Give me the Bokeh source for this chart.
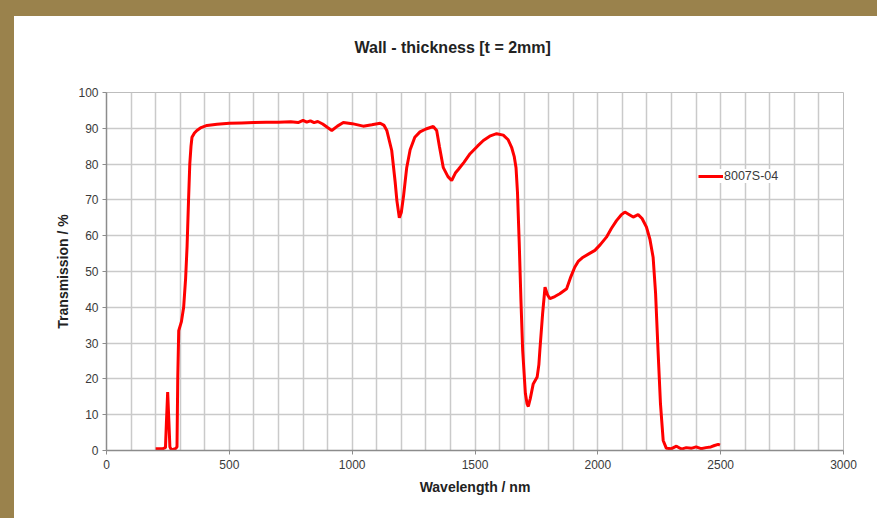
from bokeh.plotting import figure
from bokeh.layouts import column, row
from bokeh.models import Range1d, SingleIntervalTicker, Legend, LegendItem, Spacer
from bokeh.embed import file_html
from bokeh.resources import INLINE

title_text = "Wall - thickness [t = 2mm]"
x_label = "Wavelength / nm"
y_label = "Transmission / %"
series_name = "8007S-04"

wavelength = [200, 215, 230, 240, 244, 249, 254, 258, 263, 270, 280, 287, 290, 294, 305, 314, 322, 328,
              334, 339, 344, 348, 358, 368, 385, 409, 450, 500, 550, 600, 650, 700, 750, 780, 800, 815,
              830, 845, 860, 880, 900, 917, 940, 964, 1000, 1045, 1080, 1114, 1130, 1141, 1161, 1175,
              1182, 1192, 1200, 1209, 1222, 1236, 1255, 1276, 1300, 1330, 1344, 1355, 1371, 1390, 1405,
              1420, 1432, 1455, 1480, 1510, 1534, 1560, 1588, 1615, 1635, 1649, 1660, 1667, 1673, 1680,
              1687, 1694, 1705, 1712, 1717, 1725, 1737, 1753, 1760, 1764, 1775, 1785, 1795, 1805, 1825,
              1845, 1873, 1890, 1906, 1920, 1940, 1965, 1988, 2010, 2035, 2055, 2076, 2095, 2110, 2125,
              2144, 2164, 2180, 2198, 2212, 2225, 2235, 2245, 2255, 2266, 2279, 2300, 2320, 2340, 2360,
              2380, 2400, 2420, 2440, 2460, 2475, 2490, 2497]
transmission = [0.5, 0.5, 0.5, 0.8, 8, 16.3, 8, 1, 0.3, 0.3, 0.5, 1, 20, 33.5, 36, 40, 48, 57,
                70, 80, 85, 87.5, 88.7, 89.4, 90.2, 90.8, 91.1, 91.4, 91.5, 91.6, 91.7, 91.7, 91.8, 91.6, 92.2, 91.7,
                92.1, 91.6, 91.9, 91.2, 90.2, 89.4, 90.6, 91.6, 91.3, 90.6, 91.0, 91.4, 90.8, 89.4, 83.8, 75,
                69.8, 65, 66.5, 71, 79, 84, 87.5, 89, 89.8, 90.5, 89.4, 85, 79, 76.5, 75.4,
                77.5, 78.5, 80.5, 82.9, 85, 86.6, 87.8, 88.5, 88.1, 86.8, 84.7, 82, 79, 72, 58,
                42, 28, 16, 13, 12.3, 14.5, 18.6, 20.5, 24, 28, 38, 45.6, 43.5, 42.4, 43,
                43.8, 45.2, 48.5, 51.2, 52.8, 54, 55, 55.9, 57.5, 59.6, 62, 64.2, 65.8, 66.6, 66,
                65.2, 65.9, 64.8, 62.4, 59, 54, 44, 28, 13, 2.8, 0.6, 0.5, 1.2, 0.4, 0.8,
                0.6, 1.0, 0.5, 0.8, 1.0, 1.4, 1.7, 1.5]

FONT = "Liberation Sans"
GOLD = "#9A824C"

p = figure(width=863, height=502, output_backend="svg", toolbar_location=None,
           x_range=Range1d(0, 3000), y_range=Range1d(0, 100),
           min_border_left=92, min_border_right=34, min_border_top=76, min_border_bottom=68,
           background_fill_color="white", border_fill_color="white")
p.outline_line_color = "#bdbdbd"

# title: a blank second line lifts the visible line away from the frame
p.title.text = title_text + "\n "
p.title.align = "left"
p.title.offset = 248
p.title.standoff = 0
p.title.text_line_height = 2.12
p.title.text_font = FONT
p.title.text_font_style = "bold"
p.title.text_font_size = "16px"
p.title.text_color = "#222222"

# grids
p.xgrid.ticker = SingleIntervalTicker(interval=100)
p.ygrid.ticker = SingleIntervalTicker(interval=10)
for g in (p.xgrid, p.ygrid):
    g.grid_line_color = "#cacaca"
    g.grid_line_width = 1.5

# axes
p.xaxis.ticker = SingleIntervalTicker(interval=500, num_minor_ticks=0)
p.yaxis.ticker = SingleIntervalTicker(interval=10, num_minor_ticks=0)
for ax in (p.xaxis, p.yaxis):
    ax.axis_line_color = "#8c8c8c"
    ax.axis_line_width = 1.5
    ax.major_tick_line_color = "#8c8c8c"
    ax.major_tick_in = 0
    ax.major_tick_out = 4
    ax.minor_tick_line_color = None
    ax.major_label_text_font = FONT
    ax.major_label_text_font_size = "12px"
    ax.major_label_text_color = "#3a3a3a"
    ax.axis_label_text_font = FONT
    ax.axis_label_text_font_style = "bold"
    ax.axis_label_text_font_size = "14px"
    ax.axis_label_text_color = "#222222"
p.xaxis.axis_label = x_label
p.yaxis.axis_label = y_label
p.xaxis.major_label_standoff = 5
p.yaxis.major_label_standoff = 4
p.xaxis.axis_label_standoff = 7
p.yaxis.axis_label_standoff = 4

r = p.line(wavelength, transmission, line_color="#ff0000", line_width=3)

legend = Legend(items=[LegendItem(label=series_name, renderers=[r])], location=(592, 267))
legend.border_line_color = None
legend.background_fill_color = "white"
legend.background_fill_alpha = 1
legend.label_text_font = FONT
legend.label_text_font_size = "12.5px"
legend.label_text_color = "#3a3a3a"
legend.glyph_width = 25
legend.glyph_height = 10
legend.padding = 7
legend.margin = 0
legend.spacing = 0
legend.label_standoff = 1
p.add_layout(legend)

top_band = Spacer(width=877, height=16, styles={"background-color": GOLD})
left_band = Spacer(width=14, height=502, styles={"background-color": GOLD})
layout = column(top_band, row(left_band, p, spacing=0), spacing=0)

open("out.html", "w").write(file_html(layout, INLINE))
